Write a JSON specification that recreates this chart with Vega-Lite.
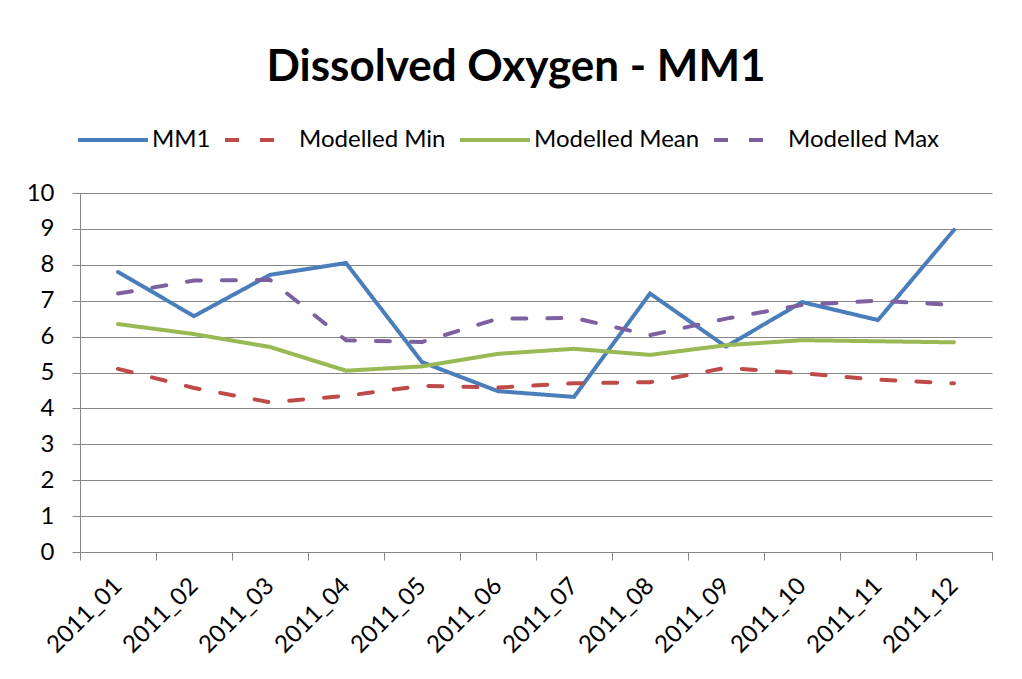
{
  "$schema": "https://vega.github.io/schema/vega-lite/v6.json",
  "width": 912,
  "height": 359,
  "autosize": {"type": "none"},
  "padding": {"left": 80, "top": 193, "right": 30, "bottom": 127},
  "background": "white",
  "title": {
    "text": "Dissolved Oxygen - MM1",
    "font": "Lato",
    "fontSize": 44,
    "fontWeight": "bold",
    "color": "#000000",
    "anchor": "middle",
    "dx": -20,
    "offset": 13
  },
  "data": {
    "values": [
      {"month": "2011_01", "series": "MM1", "value": 7.8},
      {"month": "2011_02", "series": "MM1", "value": 6.57},
      {"month": "2011_03", "series": "MM1", "value": 7.72},
      {"month": "2011_04", "series": "MM1", "value": 8.05},
      {"month": "2011_05", "series": "MM1", "value": 5.29},
      {"month": "2011_06", "series": "MM1", "value": 4.48},
      {"month": "2011_07", "series": "MM1", "value": 4.32},
      {"month": "2011_08", "series": "MM1", "value": 7.2},
      {"month": "2011_09", "series": "MM1", "value": 5.72},
      {"month": "2011_10", "series": "MM1", "value": 6.96},
      {"month": "2011_11", "series": "MM1", "value": 6.46},
      {"month": "2011_12", "series": "MM1", "value": 8.97},
      {"month": "2011_01", "series": "Modelled Min", "value": 5.1},
      {"month": "2011_02", "series": "Modelled Min", "value": 4.57},
      {"month": "2011_03", "series": "Modelled Min", "value": 4.17},
      {"month": "2011_04", "series": "Modelled Min", "value": 4.35},
      {"month": "2011_05", "series": "Modelled Min", "value": 4.63},
      {"month": "2011_06", "series": "Modelled Min", "value": 4.58},
      {"month": "2011_07", "series": "Modelled Min", "value": 4.7},
      {"month": "2011_08", "series": "Modelled Min", "value": 4.73},
      {"month": "2011_09", "series": "Modelled Min", "value": 5.13},
      {"month": "2011_10", "series": "Modelled Min", "value": 4.98},
      {"month": "2011_11", "series": "Modelled Min", "value": 4.8},
      {"month": "2011_12", "series": "Modelled Min", "value": 4.7},
      {"month": "2011_01", "series": "Modelled Mean", "value": 6.35},
      {"month": "2011_02", "series": "Modelled Mean", "value": 6.07},
      {"month": "2011_03", "series": "Modelled Mean", "value": 5.71},
      {"month": "2011_04", "series": "Modelled Mean", "value": 5.05},
      {"month": "2011_05", "series": "Modelled Mean", "value": 5.17},
      {"month": "2011_06", "series": "Modelled Mean", "value": 5.52},
      {"month": "2011_07", "series": "Modelled Mean", "value": 5.66},
      {"month": "2011_08", "series": "Modelled Mean", "value": 5.49},
      {"month": "2011_09", "series": "Modelled Mean", "value": 5.76},
      {"month": "2011_10", "series": "Modelled Mean", "value": 5.9},
      {"month": "2011_11", "series": "Modelled Mean", "value": 5.87},
      {"month": "2011_12", "series": "Modelled Mean", "value": 5.84},
      {"month": "2011_01", "series": "Modelled Max", "value": 7.2},
      {"month": "2011_02", "series": "Modelled Max", "value": 7.56},
      {"month": "2011_03", "series": "Modelled Max", "value": 7.58},
      {"month": "2011_04", "series": "Modelled Max", "value": 5.9},
      {"month": "2011_05", "series": "Modelled Max", "value": 5.85},
      {"month": "2011_06", "series": "Modelled Max", "value": 6.5},
      {"month": "2011_07", "series": "Modelled Max", "value": 6.52},
      {"month": "2011_08", "series": "Modelled Max", "value": 6.04},
      {"month": "2011_09", "series": "Modelled Max", "value": 6.5},
      {"month": "2011_10", "series": "Modelled Max", "value": 6.88},
      {"month": "2011_11", "series": "Modelled Max", "value": 7.0},
      {"month": "2011_12", "series": "Modelled Max", "value": 6.88}
    ]
  },
  "mark": {"type": "line", "strokeWidth": 4, "strokeCap": "round", "strokeJoin": "miter"},
  "encoding": {
    "x": {
      "field": "month",
      "type": "ordinal",
      "scale": {"paddingInner": 0, "paddingOuter": 0},
      "axis": {
        "title": null,
        "labelAngle": -45,
        "labelAlign": "right",
        "labelBaseline": "middle",
        "labelFont": "Lato",
        "labelFontSize": 24,
        "labelColor": "#000000",
        "labelPadding": 22,
        "tickBand": "extent",
        "tickSize": 8,
        "tickColor": "#868686",
        "domainColor": "#868686",
        "grid": false
      }
    },
    "y": {
      "field": "value",
      "type": "quantitative",
      "scale": {"domain": [0, 10], "nice": false},
      "axis": {
        "title": null,
        "values": [0, 1, 2, 3, 4, 5, 6, 7, 8, 9, 10],
        "labelFont": "Lato",
        "labelFontSize": 24,
        "labelColor": "#000000",
        "labelPadding": 18,
        "tickSize": 8,
        "tickColor": "#868686",
        "domainColor": "#868686",
        "grid": true,
        "gridColor": "#868686",
        "gridWidth": 1
      }
    },
    "color": {
      "field": "series",
      "type": "nominal",
      "scale": {
        "domain": ["MM1", "Modelled Min", "Modelled Mean", "Modelled Max"],
        "range": ["#4a7ebb", "#be4b48", "#98b954", "#7d60a0"]
      },
      "legend": {
        "title": null,
        "orient": "none",
        "direction": "horizontal",
        "legendX": -4,
        "legendY": -90,
        "symbolType": "stroke",
        "symbolSize": 4900,
        "symbolStrokeWidth": 4,
        "labelFont": "Lato",
        "labelFontSize": 24,
        "labelColor": "#000000",
        "labelOffset": 2,
        "labelLimit": 400,
        "columnPadding": 6
      }
    },
    "strokeDash": {
      "field": "series",
      "type": "nominal",
      "scale": {
        "domain": ["MM1", "Modelled Min", "Modelled Mean", "Modelled Max"],
        "range": [[1, 0], [14, 21], [1, 0], [14, 21]]
      },
      "legend": {
        "title": null,
        "orient": "none",
        "direction": "horizontal",
        "legendX": -4,
        "legendY": -90,
        "symbolType": "stroke",
        "symbolSize": 4900,
        "symbolStrokeWidth": 4,
        "labelFont": "Lato",
        "labelFontSize": 24,
        "labelColor": "#000000",
        "labelOffset": 2,
        "labelLimit": 400,
        "columnPadding": 6
      }
    }
  },
  "config": {
    "view": {"stroke": null}
  }
}
